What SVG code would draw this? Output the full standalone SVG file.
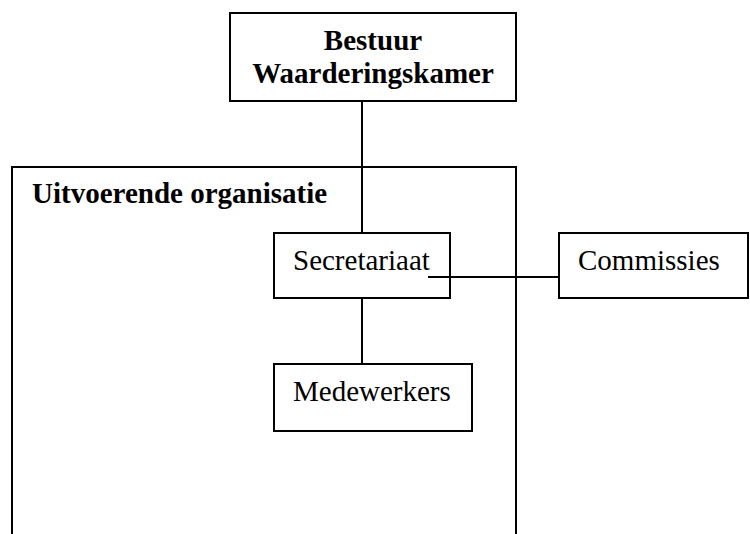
<svg xmlns="http://www.w3.org/2000/svg" width="750" height="534" viewBox="0 0 750 534">
<style>
.box{fill:#fff;stroke:#000;stroke-width:2}
.ln{fill:none;stroke:#000;stroke-width:2}
text{font-family:"Liberation Serif","Times New Roman",serif;font-size:29px;fill:#000}
.b{font-weight:bold}
</style>
<rect width="750" height="534" fill="#fff"/>
<g id="organisatie">
<path class="ln" d="M12,540 V167 H516 V540"/>
<text class="b" x="32" y="203">Uitvoerende organisatie</text>
</g>
<g id="connectors">
<line class="ln" x1="362" y1="101" x2="362" y2="233"/>
<line class="ln" x1="362" y1="298" x2="362" y2="364"/>
<line class="ln" x1="428" y1="277" x2="559" y2="277"/>
</g>
<g id="bestuur">
<rect class="box" x="230" y="13" width="286" height="88"/>
<text class="b" x="373" y="50" text-anchor="middle">Bestuur</text>
<text class="b" x="373" y="83" text-anchor="middle">Waarderingskamer</text>
</g>
<g id="secretariaat">
<rect class="box" x="274" y="233" width="176" height="65" style="fill:none"/>
<text x="293" y="270">Secretariaat</text>
</g>
<g id="medewerkers">
<rect class="box" x="274" y="364" width="198" height="67"/>
<text x="293" y="401">Medewerkers</text>
</g>
<g id="commissies">
<rect class="box" x="559" y="233" width="189" height="65"/>
<text x="578" y="270">Commissies</text>
</g>
</svg>
